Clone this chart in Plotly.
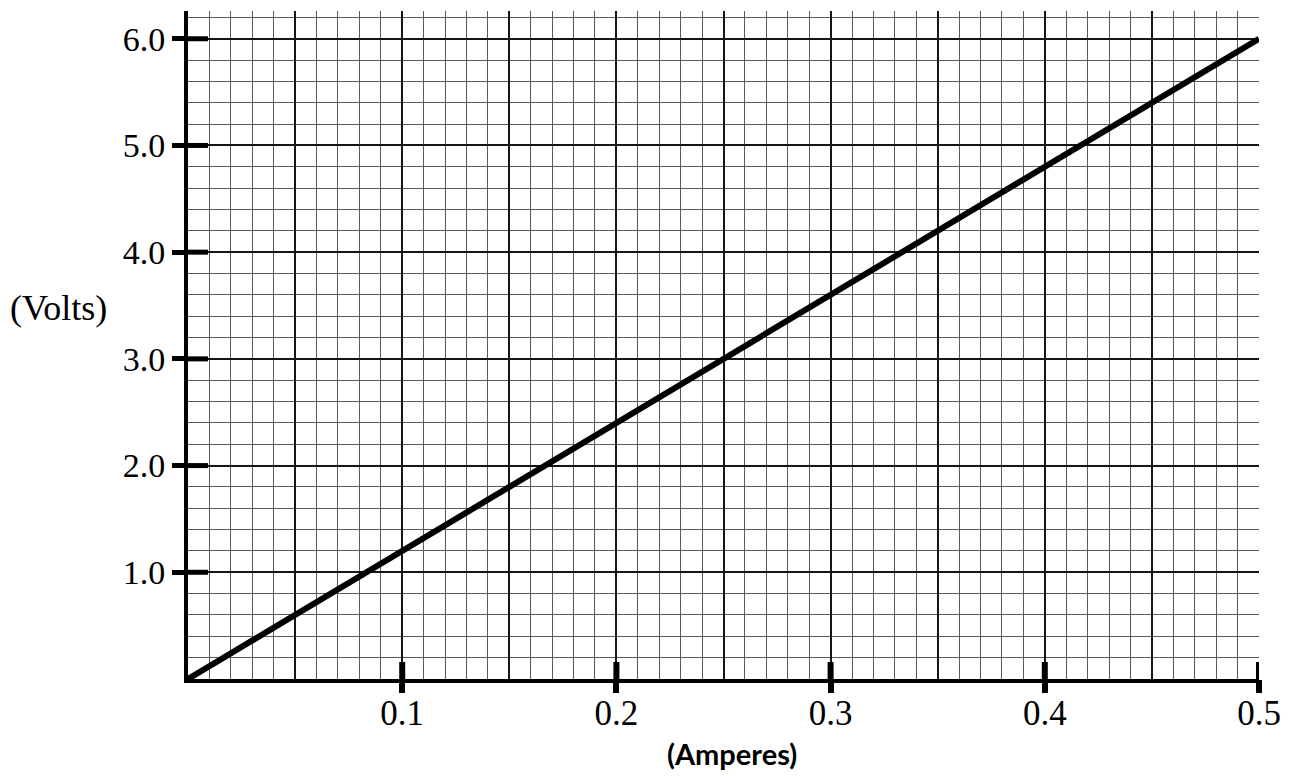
import plotly.graph_objects as go

# ---- data ----
CURRENT_A = [0.0, 0.5]
VOLTAGE_V = [0.0, 6.0]

X_TICKS = [0.1, 0.2, 0.3, 0.4, 0.5]
X_TICK_LABELS = ["0.1", "0.2", "0.3", "0.4", "0.5"]
X_GRID = [0.0, 0.05, 0.1, 0.15, 0.2, 0.25, 0.3, 0.35, 0.4, 0.45, 0.5]

Y_TICKS = [1.0, 2.0, 3.0, 4.0, 5.0, 6.0]
Y_TICK_LABELS = ["1.0", "2.0", "3.0", "4.0", "5.0", "6.0"]

X_LABEL = "(Amperes)"
Y_LABEL = "(Volts)"

# ---- figure ----
fig = go.Figure()
fig.add_trace(go.Scatter(
    x=CURRENT_A, y=VOLTAGE_V, mode="lines",
    line=dict(color="black", width=6),
    hoverinfo="skip", showlegend=False, cliponaxis=False,
))
# empty trace so the overlaying tick axis is drawn
fig.add_trace(go.Scatter(x=[], y=[], xaxis="x2", yaxis="y",
                         hoverinfo="skip", showlegend=False))

serif = "Liberation Serif, Times New Roman, serif"
MAJOR_GRID = "#161616"
MINOR_GRID = "#5a5a5a"

x_text = [X_TICK_LABELS[X_TICKS.index(v)] if v in X_TICKS else "" for v in X_GRID]

shapes = []
# inner halves of the tick marks (outer halves come from the axes)
for v in X_TICKS:
    shapes.append(dict(type="line", xref="x", yref="y", ysizemode="pixel", yanchor=0,
                       x0=v, x1=v, y0=0, y1=17, line=dict(color="black", width=6),
                       layer="above"))
for v in Y_TICKS:
    shapes.append(dict(type="line", xref="x", yref="y", xsizemode="pixel", xanchor=0,
                       x0=0, x1=20, y0=v, y1=v, line=dict(color="black", width=5),
                       layer="above"))

fig.update_layout(
    width=1287, height=768,
    margin=dict(l=180, r=36, t=3, b=97),
    paper_bgcolor="white", plot_bgcolor="white",
    xaxis=dict(
        range=[0, 0.5], tickmode="array", tickvals=X_GRID, ticktext=x_text,
        ticks="",
        showgrid=True, gridcolor=MAJOR_GRID, gridwidth=2,
        minor=dict(dtick=0.01, tick0=0, showgrid=True, gridcolor=MINOR_GRID, gridwidth=1),
        showline=True, linecolor="black", linewidth=4, zeroline=False,
        tickfont=dict(family=serif, size=35, color="black"),
        ticklabelstandoff=0,
    ),
    xaxis2=dict(
        range=[0, 0.5], overlaying="x", anchor="y", side="bottom",
        tickmode="array", tickvals=X_TICKS,
        ticks="outside", ticklen=13, tickwidth=6, tickcolor="black",
        showticklabels=False, showgrid=False, showline=False, zeroline=False,
    ),
    yaxis=dict(
        range=[0, 6.26], tickmode="array", tickvals=Y_TICKS, ticktext=Y_TICK_LABELS,
        ticks="outside", ticklen=12, tickwidth=5, tickcolor="black",
        showgrid=True, gridcolor=MAJOR_GRID, gridwidth=2,
        minor=dict(dtick=0.2, tick0=0, showgrid=True, gridcolor=MINOR_GRID, gridwidth=1),
        showline=True, linecolor="black", linewidth=4, zeroline=False,
        tickfont=dict(family=serif, size=34, color="black"),
        ticklabelstandoff=0,
    ),
    shapes=shapes,
    annotations=[
        dict(text=Y_LABEL, xref="paper", yref="paper", x=-0.1205, y=0.556,
             xanchor="center", yanchor="middle", showarrow=False,
             font=dict(family=serif, size=36, color="black")),
        dict(text="<b>" + X_LABEL + "</b>", xref="paper", yref="paper", x=0.508, y=-0.111,
             xanchor="center", yanchor="middle", showarrow=False,
             font=dict(family="Lato, Open Sans, sans-serif", size=29, color="black")),
    ],
)

fig.write_html("out.html")
